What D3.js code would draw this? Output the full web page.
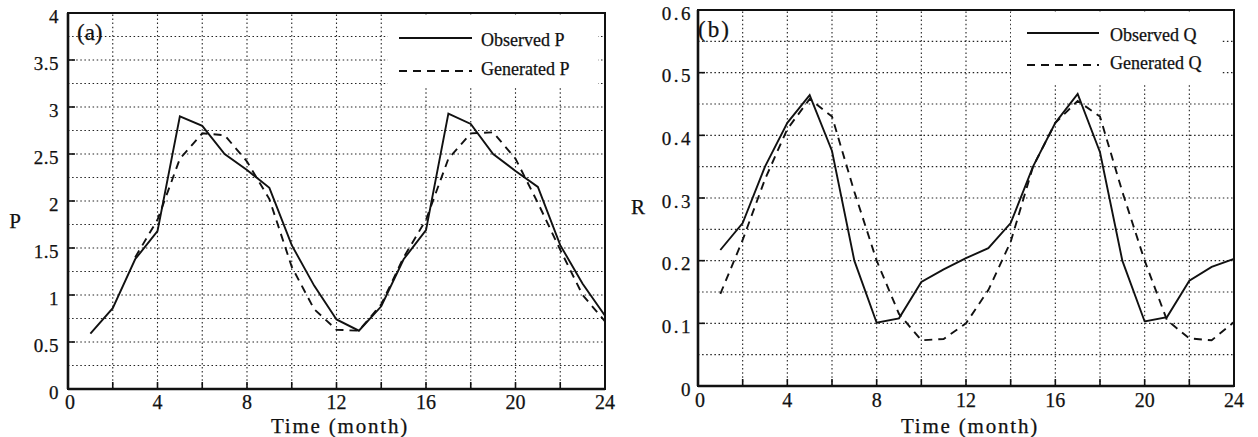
<!DOCTYPE html>
<html><head><meta charset="utf-8">
<script src="https://cdn.jsdelivr.net/npm/d3@7"></script>
<style>body{margin:0;background:#fff}svg{display:block}</style>
</head><body>
<svg id="c" width="1258" height="437" font-family="'Liberation Serif', 'Times New Roman', Times, 'DejaVu Serif', serif"></svg>
<script>
const months = d3.range(1, 25);
const observedP = [0.59,0.86,1.38,1.68,2.9,2.8,2.5,2.33,2.14,1.53,1.1,0.74,0.62,0.88,1.38,1.69,2.93,2.82,2.5,2.32,2.15,1.53,1.12,0.78];
const generatedP = [null,null,1.4,1.8,2.45,2.72,2.7,2.42,2.02,1.3,0.85,0.63,0.62,0.9,1.4,1.8,2.45,2.72,2.73,2.45,1.98,1.48,1.0,0.72];
const observedQ = [0.217,0.26,0.35,0.42,0.464,0.375,0.2,0.101,0.108,0.166,0.186,0.204,0.22,0.26,0.35,0.42,0.466,0.373,0.2,0.103,0.11,0.168,0.19,0.203];
const generatedQ = [0.147,0.233,0.33,0.41,0.458,0.43,0.31,0.2,0.115,0.073,0.075,0.1,0.153,0.23,0.35,0.42,0.455,0.43,0.31,0.2,0.105,0.076,0.073,0.102];
const xTicks = [0,4,8,12,16,20,24];
const yTicksP = [0,0.5,1,1.5,2,2.5,3,3.5,4];
const yTicksQ = [0,0.1,0.2,0.3,0.4,0.5,0.6];

const FONT = "'Liberation Serif', 'Times New Roman', Times, serif";
const svg = d3.select("#c");

function txt(g){ return g.append("text").attr("font-family", FONT).attr("fill","#111")
  .attr("stroke","#111").attr("stroke-width",0.25); }

function panel(cfg){
  const g = svg.append("g");
  const x = d3.scaleLinear().domain([0,24]).range(cfg.xr);
  const y = d3.scaleLinear().domain(cfg.yd).range(cfg.yr);
  const [x0,x1] = cfg.xr, [y0,y1] = cfg.yr;
  // grid
  const gx = d3.range(2,24,2);
  const gy = d3.range(1, Math.round(cfg.yd[1]/cfg.minor)).map(i=>i*cfg.minor);
  const grid = g.append("g").attr("stroke","#222").attr("stroke-width",1.1).attr("stroke-dasharray","1.5,2.6");
  grid.selectAll(".v").data(gx).join("line").attr("x1",d=>x(d)).attr("x2",d=>x(d)).attr("y1",y0).attr("y2",y1);
  grid.selectAll(".h").data(gy).join("line").attr("y1",d=>y(d)).attr("y2",d=>y(d)).attr("x1",x0).attr("x2",x1);
  // legend background box
  g.append("rect").attr("x",cfg.leg.bx).attr("y",cfg.leg.by).attr("width",cfg.leg.bw).attr("height",cfg.leg.bh).attr("fill","#fff");
  // ticks inward
  const tk = g.append("g").attr("stroke","#111").attr("stroke-width",1.6);
  tk.selectAll(".xt").data(d3.range(2,24,2)).join("line").attr("x1",d=>x(d)).attr("x2",d=>x(d)).attr("y1",y0).attr("y2",y0-7);
  tk.selectAll(".yt").data(cfg.yTicks.slice(1,-1)).join("line").attr("y1",d=>y(d)).attr("y2",d=>y(d)).attr("x1",x0).attr("x2",x0+7);
  // frame
  g.append("rect").attr("x",x0).attr("y",y1).attr("width",x1-x0).attr("height",y0-y1).attr("fill","none").attr("stroke","#111").attr("stroke-width",2);
  g.append("line").attr("x1",x0).attr("x2",x0).attr("y1",y1).attr("y2",y0).attr("stroke","#111").attr("stroke-width",2.6);
  g.append("line").attr("x1",x0).attr("x2",x1).attr("y1",y0).attr("y2",y0).attr("stroke","#111").attr("stroke-width",2.6);
  // tick labels
  xTicks.forEach(d=>{
    txt(g).attr("x",x(d)+(d===0?2:0)).attr("y",y0+cfg.xlOff).attr("dy","0.35em")
      .attr("text-anchor","middle").attr("font-size",20).text(d);
  });
  cfg.yTicks.forEach(d=>{
    txt(g).attr("x",x0-cfg.labGap).attr("y",y(d)+3).attr("dy","0.35em")
      .attr("text-anchor","end").attr("font-size",19).attr("letter-spacing",cfg.ls).text(d);
  });
  // axis titles
  txt(g).attr("x",cfg.ylab[0]).attr("y",cfg.ylab[1]).attr("dy","0.35em").attr("text-anchor","middle").attr("font-size",21).text(cfg.yTitle);
  txt(g).attr("x",cfg.xtitle).attr("y",433).attr("text-anchor","middle").attr("font-size",21).attr("letter-spacing",1.8).text("Time (month)");
  txt(g).attr("x",cfg.tag[0]).attr("y",cfg.tag[1]).attr("dy","0.35em").attr("font-size",23).attr("letter-spacing",cfg.tagLs).text(cfg.tagText);
  // lines
  const line = d3.line().defined(d=>d[1]!=null).x(d=>x(d[0])).y(d=>y(d[1]));
  g.append("path").datum(months.map((m,i)=>[m,cfg.gen[i]])).attr("d",line).attr("fill","none").attr("stroke","#111").attr("stroke-width",1.9).attr("stroke-dasharray","8,6");
  g.append("path").datum(months.map((m,i)=>[m,cfg.obs[i]])).attr("d",line).attr("fill","none").attr("stroke","#111").attr("stroke-width",1.9);
  // legend
  const L = cfg.leg;
  g.append("line").attr("x1",L.lx0).attr("x2",L.lx1).attr("y1",L.y1).attr("y2",L.y1).attr("stroke","#111").attr("stroke-width",1.9);
  g.append("line").attr("x1",L.lx0).attr("x2",L.lx1).attr("y1",L.y2).attr("y2",L.y2).attr("stroke","#111").attr("stroke-width",1.9).attr("stroke-dasharray","8,6");
  txt(g).attr("x",L.tx).attr("y",L.y1+2).attr("dy","0.35em").attr("font-size",18).text(cfg.names[0]);
  txt(g).attr("x",L.tx).attr("y",L.y2-2).attr("dy","0.35em").attr("font-size",18).text(cfg.names[1]);
}

panel({xr:[68,605], yr:[389,13], yd:[0,4], minor:0.25, yTicks:yTicksP, labGap:9, ls:0.5, xlOff:13,
  ylab:[15,221], yTitle:"P", xtitle:340, tag:[77,32], tagText:"(a)", tagLs:0,
  obs:observedP, gen:generatedP, names:["Observed P","Generated P"],
  leg:{bx:388,by:15,bw:210,bh:73,lx0:399,lx1:472,y1:38,y2:71,tx:481}});
panel({xr:[698,1234], yr:[386,10], yd:[0,0.6], minor:0.05, yTicks:yTicksQ, labGap:5, ls:2.5, xlOff:14,
  ylab:[638,207], yTitle:"R", xtitle:970, tag:[698,29], tagText:"(b)", tagLs:2,
  obs:observedQ, gen:generatedQ, names:["Observed Q","Generated Q"],
  leg:{bx:1011,by:12,bw:211,bh:72,lx0:1027,lx1:1099,y1:33,y2:65,tx:1110}});
</script>
</body></html>
